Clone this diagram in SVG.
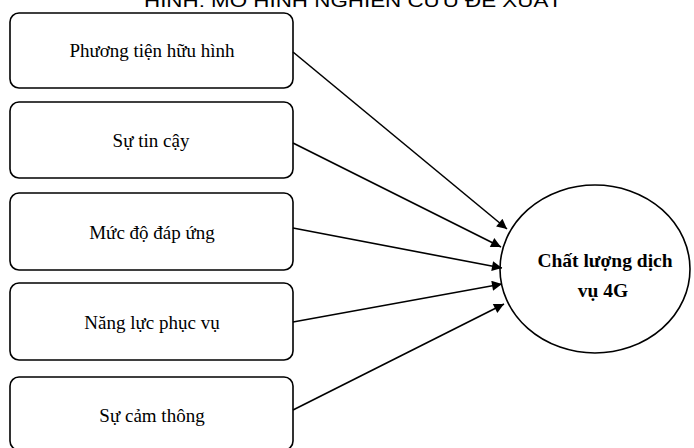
<svg xmlns="http://www.w3.org/2000/svg" width="694" height="448" viewBox="0 0 694 448">
<defs>
<style>
.box{fill:#fff;stroke:#000;stroke-width:1.6}
.lbl{font-family:"Liberation Serif","Times New Roman",serif;font-size:19px;fill:#000;text-anchor:middle}
.big{font-family:"Liberation Serif","Times New Roman",serif;font-size:19.5px;font-weight:bold;fill:#000;text-anchor:middle}
.edge{stroke:#000;stroke-width:1.6;fill:none;marker-end:url(#ah)}
</style>
<marker id="ah" viewBox="0 0 10 10" refX="10" refY="5" markerWidth="12" markerHeight="10" markerUnits="userSpaceOnUse" orient="auto">
<path d="M0,0 L10,5 L0,10 z" fill="#000"/>
</marker>
</defs>
<rect width="694" height="448" fill="#fff"/>
<text x="353" y="7" font-family="'Liberation Sans',Arial,sans-serif" font-size="19" textLength="418" lengthAdjust="spacingAndGlyphs" text-anchor="middle" fill="#000">HÌNH: MÔ HÌNH NGHIÊN CỨU ĐỀ XUẤT</text>
<g id="n1"><rect class="box" x="10" y="13" width="283" height="75" rx="9"/><text class="lbl" x="152" y="57">Phương tiện hữu hình</text></g>
<g id="n2"><rect class="box" x="10" y="102" width="283" height="76" rx="9"/><text class="lbl" x="151" y="147">Sự tin cậy</text></g>
<g id="n3"><rect class="box" x="10" y="193" width="283" height="77" rx="9"/><text class="lbl" x="152" y="239">Mức độ đáp ứng</text></g>
<g id="n4"><rect class="box" x="10" y="283" width="283" height="77" rx="9"/><text class="lbl" x="152" y="329">Năng lực phục vụ</text></g>
<g id="n5"><rect class="box" x="10" y="377" width="283" height="73" rx="9"/><text class="lbl" x="152" y="422">Sự cảm thông</text></g>
<g id="n6"><ellipse class="box" cx="595" cy="269" rx="95" ry="84"/><text class="big" x="605" y="267">Chất lượng dịch</text><text class="big" x="603" y="297">vụ 4G</text></g>
<g id="edges">
<line class="edge" x1="293" y1="52" x2="507" y2="229"/>
<line class="edge" x1="293" y1="143" x2="501" y2="247"/>
<line class="edge" x1="293" y1="228" x2="502" y2="268"/>
<line class="edge" x1="293" y1="322" x2="502" y2="284"/>
<line class="edge" x1="293" y1="410" x2="504" y2="304"/>
</g>
</svg>
